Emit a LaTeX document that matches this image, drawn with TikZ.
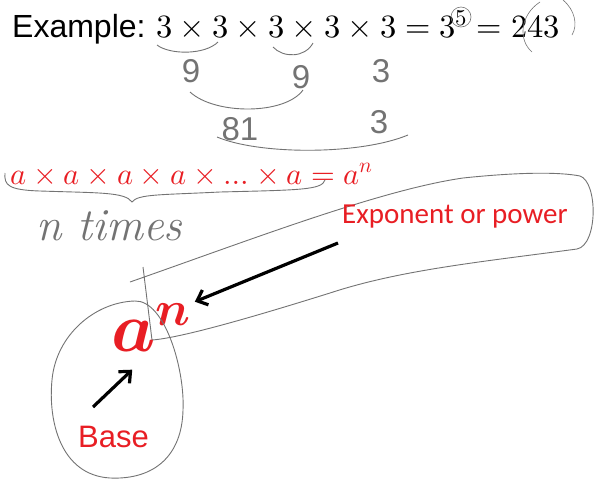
\documentclass[tikz,border=0pt]{standalone}
\usepackage{amsmath}
\usepackage{fontspec}
\usepackage{unicode-math}
\usepackage{xcolor}
\usetikzlibrary{arrows.meta}
\setmathfont{Latin Modern Math}
\newfontfamily\arialfont{Liberation Sans}
\newfontfamily\calibrifont{Carlito}
\definecolor{inkred}{RGB}{232,30,36}
\definecolor{pencil}{RGB}{115,115,115}

\begin{document}
\begin{tikzpicture}[x=1pt, y=-1pt, inner sep=0pt,
    pencil line/.style={draw=pencil, line width=0.9pt},
    hand/.style={text=pencil, font=\arialfont\fontsize{33}{33}\selectfont},
    marker/.style={draw=black, line width=3.2pt, -{Straight Barb[length=9pt, width=16pt]}}]
  \useasboundingbox (0,0) rectangle (595,483);

  % example line
  \node[anchor=base west, font=\arialfont\fontsize{32}{32}\selectfont] (ex) at (12,37) {Example:};
  \node[anchor=base west, font=\fontsize{32.5}{33}\selectfont] (prod) at (156,37) {$3\times3\times3\times3\times3=3^{5}=243$};

  % working under it
  \node[hand, anchor=base] (nine1) at (191,82) {9};
  \node[hand, anchor=base] (nine2) at (301,88) {9};
  \node[hand, anchor=base] (three1) at (381,82) {3};
  \node[hand, anchor=base] (eightyone) at (240,140) {81};
  \node[hand, anchor=base] (three2) at (379,133) {3};
  \draw[pencil line] (157,45) .. controls (170,55) and (205,55) .. (218,42);
  \draw[pencil line] (273,47) .. controls (283,58) and (305,58) .. (313,43);
  \draw[pencil line] (190,92) .. controls (215,115) and (285,115) .. (303,90);
  \draw[pencil line] (217,137) .. controls (260,155) and (360,155) .. (408,135);
  \draw[pencil line, line width=0.6pt] (461,17) circle [radius=10];
  \draw[pencil line, line width=0.6pt] (540,2) .. controls (520,15) and (518,40) .. (532,52);
  \draw[pencil line, line width=0.6pt] (563,0) .. controls (575,10) and (578,25) .. (572,35);

  % general rule
  \node[anchor=base west, text=inkred, font=\fontsize{30.5}{31}\selectfont] (rule) at (10,184) {$a\times a\times a\times a\times\ldots\times a=a^{n}$};
  \draw[pencil line] (5,173) .. controls (4,185) and (8,190) .. (40,191)
    .. controls (100,193) and (125,192) .. (132,202)
    .. controls (138,194) and (160,195) .. (220,192)
    .. controls (300,190) and (322,190) .. (325,180);
  \node[text=pencil, anchor=base west, font=\itshape\fontsize{46}{46}\selectfont] (ntimes) at (36,240) {n times};

  % bubble for the exponent
  \draw[pencil line] (130,282) .. controls (250,240) and (380,190) .. (463,178)
    .. controls (520,172) and (560,172) .. (580,176)
    .. controls (598,182) and (598,245) .. (577,249)
    .. controls (480,262) and (400,270) .. (330,293)
    .. controls (250,318) and (180,338) .. (152,340)
    -- (143,267);
  \node[anchor=base west, text=inkred, font=\calibrifont\fontsize{29}{29}\selectfont] (expo) at (342,223) {Exponent or power};

  % big a^n and the base loop
  \node[anchor=base west, text=inkred, font=\fontsize{70}{70}\selectfont] (an) at (111,351) {$\symbfit{a}^{\symbfit{n}}$};
  \draw[pencil line] (135,301) .. controls (165,300) and (185,370) .. (183,410)
    .. controls (182,455) and (155,480) .. (110,478)
    .. controls (60,475) and (48,420) .. (52,380)
    .. controls (56,335) and (95,302) .. (135,301);
  \node[anchor=base west, text=inkred, font=\arialfont\fontsize{31}{31}\selectfont] (base) at (78,447) {Base};

  % arrows
  \coordinate (expotail) at (338,243);
  \coordinate (basetail) at (93,407);
  \draw[marker, shorten >=4pt] (expotail) -- (an.north east);
  \draw[marker, shorten >=26pt] (basetail) -- (an.south);
\end{tikzpicture}
\end{document}
